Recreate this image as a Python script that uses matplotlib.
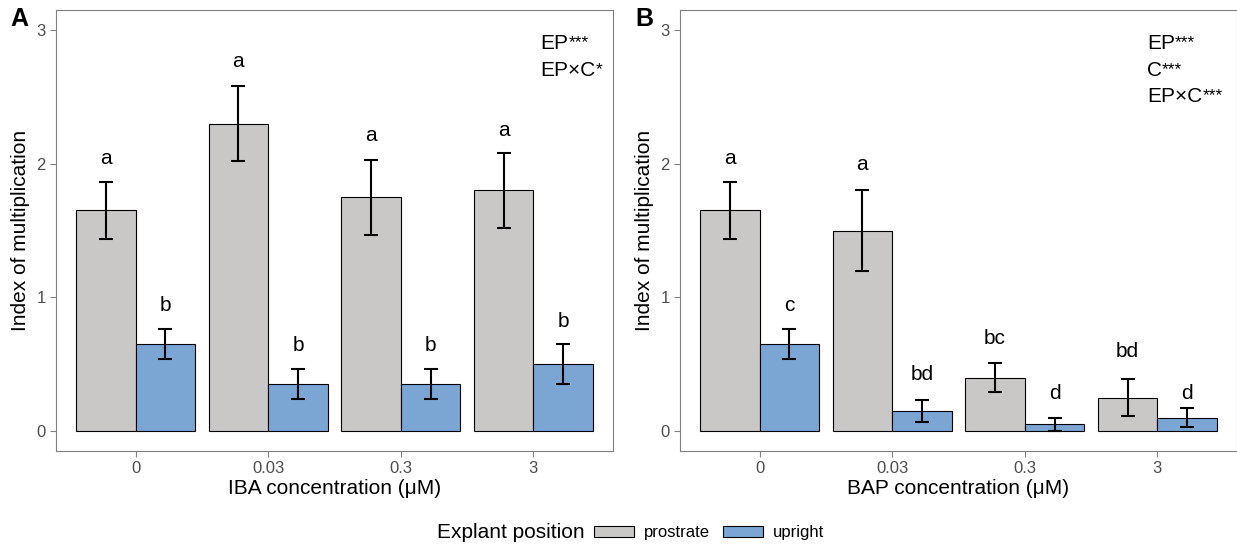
import matplotlib
matplotlib.use("Agg")
import matplotlib.pyplot as plt
from matplotlib.patches import Patch
import numpy as np

plt.rcParams["font.family"] = ["Liberation Sans", "DejaVu Sans"]

# データ
conc = ["0", "0.03", "0.3", "3"]

iba_prostrate = [1.65, 2.30, 1.75, 1.80]
iba_prostrate_se = [0.21, 0.28, 0.28, 0.28]
iba_upright = [0.65, 0.35, 0.35, 0.50]
iba_upright_se = [0.11, 0.11, 0.11, 0.15]
iba_prostrate_letters = ["a", "a", "a", "a"]
iba_upright_letters = ["b", "b", "b", "b"]
iba_prostrate_lab_y = [2.00, 2.72, 2.17, 2.21]
iba_upright_lab_y = [0.90, 0.60, 0.60, 0.78]
iba_stats = ["EP", "EP×C"]
iba_stars = ["***", "*"]

bap_prostrate = [1.65, 1.50, 0.40, 0.25]
bap_prostrate_se = [0.21, 0.30, 0.11, 0.14]
bap_upright = [0.65, 0.15, 0.05, 0.10]
bap_upright_se = [0.11, 0.085, 0.05, 0.07]
bap_prostrate_letters = ["a", "a", "bc", "bd"]
bap_upright_letters = ["c", "bd", "d", "d"]
bap_prostrate_lab_y = [2.00, 1.95, 0.65, 0.55]
bap_upright_lab_y = [0.90, 0.38, 0.24, 0.24]
bap_stats = ["EP", "C", "EP×C"]
bap_stars = ["***", "***", "***"]

grey = "#cac7c7"
blue = "#7ba6d3"
frame = "#808080"

W, H = 1237, 549
fig = plt.figure(figsize=(W / 100, H / 100), dpi=100)
ax_a = fig.add_axes([56 / W, 1 - 451 / H, 557 / W, 441 / H])
ax_b = fig.add_axes([680 / W, 1 - 451 / H, 557 / W, 441 / H])


def draw_panel(ax, xlabel, pro, pro_se, up, up_se, pro_let, up_let,
               pro_y, up_y, stats, stars, stats_x):
    x = np.arange(1, len(conc) + 1)
    ax.bar(x - 0.225, pro, width=0.45, color=grey, edgecolor="black", linewidth=0.8, zorder=2)
    ax.bar(x + 0.225, up, width=0.45, color=blue, edgecolor="black", linewidth=0.8, zorder=2)
    ax.errorbar(x - 0.225, pro, yerr=pro_se, fmt="none", ecolor="black",
                elinewidth=1.5, capsize=4.7, capthick=1.5, zorder=3)
    ax.errorbar(x + 0.225, up, yerr=up_se, fmt="none", ecolor="black",
                elinewidth=1.5, capsize=4.7, capthick=1.5, zorder=3)
    for xi, lab, yy in zip(x - 0.225, pro_let, pro_y):
        ax.text(xi, yy, lab, ha="center", va="baseline", fontsize=15)
    for xi, lab, yy in zip(x + 0.225, up_let, up_y):
        ax.text(xi, yy, lab, ha="center", va="baseline", fontsize=15)

    # 統計の注記（星は上付き）
    for i, (s, st) in enumerate(zip(stats, stars)):
        t = ax.text(stats_x, 2.90 - 0.20 * i, s, ha="left", va="center", fontsize=15)
        ax.annotate(st, xy=(1, 1), xycoords=t, xytext=(0.2, -0.8),
                    textcoords="offset points", ha="left", va="top", fontsize=12.5)

    ax.set_xlim(0.4, 4.6)
    ax.set_ylim(-0.15, 3.15)
    ax.set_xticks(x)
    ax.set_xticklabels(conc)
    ax.set_yticks([0, 1, 2, 3])
    ax.tick_params(axis="both", colors=frame, labelcolor="#4d4d4d",
                   labelsize=12, length=4.5, width=0.8, pad=3)
    for sp in ax.spines.values():
        sp.set_color(frame)
        sp.set_linewidth(0.8)
    ax.set_xlabel(xlabel, fontsize=15, va="top")
    ax.xaxis.set_label_coords(0.5, -0.063)
    ax.set_ylabel("Index of multiplication", fontsize=15)
    ax.yaxis.set_label_coords(-0.047, 0.5)


draw_panel(ax_a, "IBA concentration (μM)", iba_prostrate, iba_prostrate_se,
           iba_upright, iba_upright_se, iba_prostrate_letters, iba_upright_letters,
           iba_prostrate_lab_y, iba_upright_lab_y, iba_stats, iba_stars, 4.05)
draw_panel(ax_b, "BAP concentration (μM)", bap_prostrate, bap_prostrate_se,
           bap_upright, bap_upright_se, bap_prostrate_letters, bap_upright_letters,
           bap_prostrate_lab_y, bap_upright_lab_y, bap_stats, bap_stars, 3.92)

# パネルラベル
fig.text(10 / W, 1 - 19 / H, "A", fontsize=18, weight="bold", va="center", ha="left")
fig.text(635 / W, 1 - 19 / H, "B", fontsize=18, weight="bold", va="center", ha="left")

# 凡例
fig.text(437 / W, 1 - 533 / H, "Explant position", fontsize=15, ha="left", va="center")
handles = [Patch(facecolor=grey, edgecolor="black", linewidth=0.8, label="prostrate"),
           Patch(facecolor=blue, edgecolor="black", linewidth=0.8, label="upright")]
fig.legend(handles=handles, loc="center left", bbox_to_anchor=(594 / W, 1 - 533 / H),
           ncol=2, frameon=False, fontsize=12, handlelength=2.4, handleheight=0.6,
           handletextpad=0.6, columnspacing=0.8, borderpad=0, borderaxespad=0)

fig.savefig("out.png", dpi=100)
plt.close(fig)
